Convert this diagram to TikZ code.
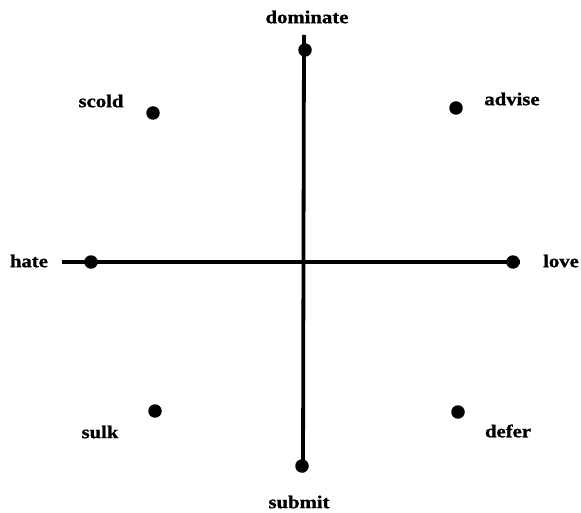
\documentclass[tikz,border=0pt]{standalone}
\usepackage{fontspec}
\newfontfamily\labfont[FakeStretch=1.15,FakeBold=1.2]{Liberation Serif}
\begin{document}
\begin{tikzpicture}[x=1pt,y=-1pt,
  axis/.style={line width=3.8pt},
  dot/.style={circle,fill=black,inner sep=0pt,minimum size=13.5pt},
  lab/.style={font=\labfont\bfseries\fontsize{18}{21}\selectfont,inner sep=0pt}]
\useasboundingbox (0,0) rectangle (581,513);
% axis end coordinates
\coordinate (top) at (304,35);
\coordinate (bot) at (303,472);
\coordinate (left) at (62,262);
\coordinate (right) at (520,262);
\draw[axis] (top) -- (bot);
\draw[axis] (left) -- (right);
% dots
\node[dot] (dom) at (305,50) {};
\node[dot] (hat) at (91,262) {};
\node[dot] (lov) at (513,262) {};
\node[dot] (sub) at (302,466) {};
\node[dot] (sco) at (153,113) {};
\node[dot] (adv) at (456,108) {};
\node[dot] (sul) at (155,411) {};
\node[dot] (def) at (458,412) {};
% labels
\node[lab] (tdom) at (307,17) {dominate};
\node[lab] (that) at (29,261) {hate};
\node[lab] (tlov) at (561,261) {love};
\node[lab] (tsub) at (299,502) {submit};
\node[lab] (tsco) at (101,101) {scold};
\node[lab] (tadv) at (512,99) {advise};
\node[lab] (tsul) at (100,432) {sulk};
\node[lab] (tdef) at (508,431) {defer};
\end{tikzpicture}
\end{document}
